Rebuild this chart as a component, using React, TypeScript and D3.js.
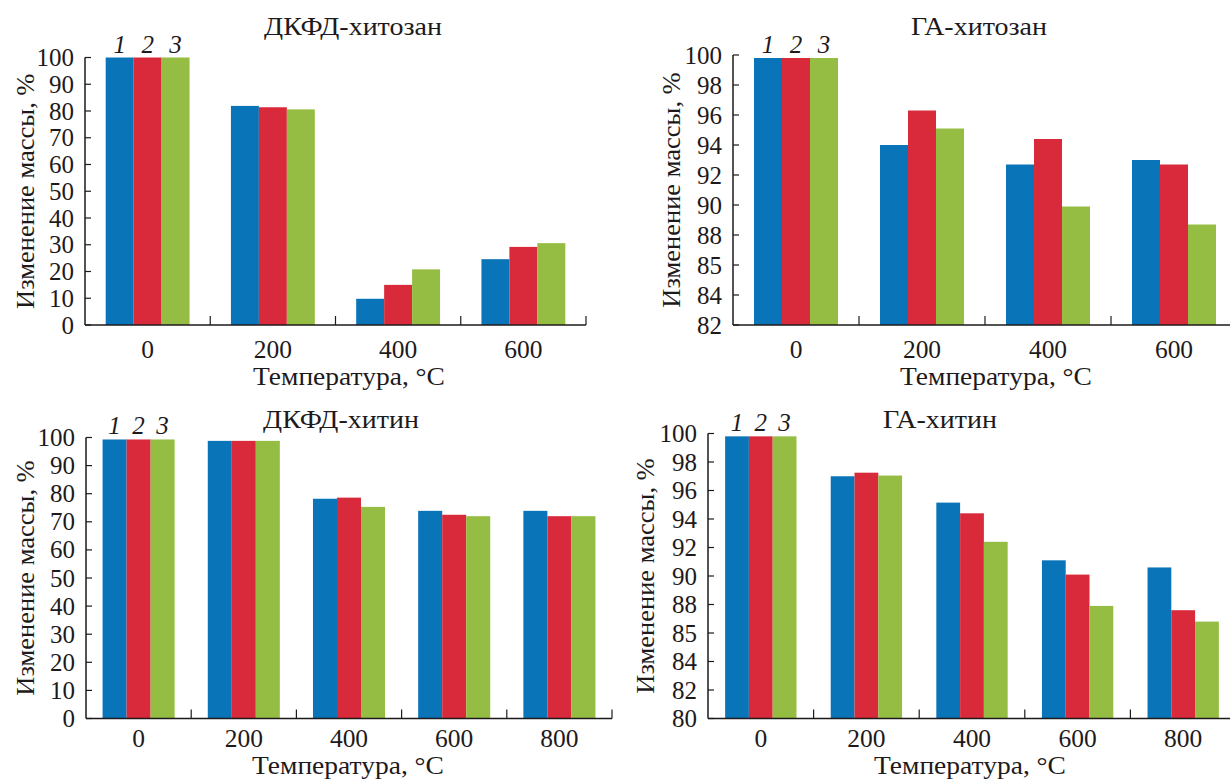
import { useEffect, useRef } from "react";
import * as d3 from "d3";

// series 1, 2, 3 colours
const colors = ["#0a74b8", "#d92a3b", "#95bd43"];
const seriesLabels = ["1", "2", "3"];

// ДКФД-хитозан
const tempsChitosan = ["0", "200", "400", "600"];
const dkfdChitosan1 = [100, 81.9, 9.8, 24.6];
const dkfdChitosan2 = [100, 81.4, 15.0, 29.2];
const dkfdChitosan3 = [100, 80.6, 20.8, 30.6];

// ГА-хитозан
const gaChitosan1 = [99.8, 94.0, 92.7, 93.0];
const gaChitosan2 = [99.8, 96.3, 94.4, 92.7];
const gaChitosan3 = [99.8, 95.1, 89.9, 88.7];

// ДКФД-хитин
const tempsChitin = ["0", "200", "400", "600", "800"];
const dkfdChitin1 = [99.3, 98.8, 78.2, 73.9, 73.9];
const dkfdChitin2 = [99.3, 98.8, 78.6, 72.5, 72.0];
const dkfdChitin3 = [99.3, 98.8, 75.3, 72.0, 72.0];

// ГА-хитин
const gaChitin1 = [99.8, 97.0, 95.15, 91.1, 90.6];
const gaChitin2 = [99.8, 97.25, 94.4, 90.1, 87.6];
const gaChitin3 = [99.8, 97.05, 92.4, 87.9, 86.8];

// y ticks (the journal figure prints "85" where 86 belongs)
const ticksPercent = [0, 10, 20, 30, 40, 50, 60, 70, 80, 90, 100];
const ticksPercentLabels = ["0", "10", "20", "30", "40", "50", "60", "70", "80", "90", "100"];
const ticksGaChitosan = [82, 84, 86, 88, 90, 92, 94, 96, 98, 100];
const ticksGaChitosanLabels = ["82", "84", "85", "88", "90", "92", "94", "96", "98", "100"];
const ticksGaChitin = [80, 82, 84, 86, 88, 90, 92, 94, 96, 98, 100];
const ticksGaChitinLabels = ["80", "82", "84", "85", "88", "90", "92", "94", "96", "98", "100"];

const yTitle = "Изменение массы, %";
const xTitle = "Температура, °С";

const FONT = "'Liberation Serif', 'DejaVu Serif', serif";
const FS = 25;
const STRETCH = 1.12;
const INK = "#1e1a1b";

const panels = [
  {
    title: "ДКФД-хитозан", cats: tempsChitosan,
    series: [dkfdChitosan1, dkfdChitosan2, dkfdChitosan3],
    domain: [0, 100], ticks: ticksPercent, tickLabels: ticksPercentLabels,
    x0: 85, x1: 586, yTop: 57.5, yBot: 325, pad: 0.74,
    titleX: 353, titleY: 35, legendY: 53, catY: 358, xTitleX: 349, xTitleY: 385, yTitleX: 25,
  },
  {
    title: "ГА-хитозан", cats: tempsChitosan,
    series: [gaChitosan1, gaChitosan2, gaChitosan3],
    domain: [82, 100], ticks: ticksGaChitosan, tickLabels: ticksGaChitosanLabels,
    x0: 733, x1: 1237, yTop: 55, yBot: 325, pad: 0.75,
    titleX: 979, titleY: 35, legendY: 53, catY: 358, xTitleX: 996, xTitleY: 385, yTitleX: 671,
  },
  {
    title: "ДКФД-хитин", cats: tempsChitin,
    series: [dkfdChitin1, dkfdChitin2, dkfdChitin3],
    domain: [0, 100], ticks: ticksPercent, tickLabels: ticksPercentLabels,
    x0: 86, x1: 612, yTop: 437.5, yBot: 718.5, pad: 0.69,
    titleX: 341, titleY: 428, legendY: 434, catY: 747, xTitleX: 348, xTitleY: 774, yTitleX: 25,
  },
  {
    title: "ГА-хитин", cats: tempsChitin,
    series: [gaChitin1, gaChitin2, gaChitin3],
    domain: [80, 100], ticks: ticksGaChitin, tickLabels: ticksGaChitinLabels,
    x0: 708, x1: 1236, yTop: 433.5, yBot: 718.5, pad: 0.72,
    titleX: 940, titleY: 428, legendY: 431, catY: 747, xTitleX: 970, xTitleY: 774, yTitleX: 645,
  },
];

const App = () => {
  const container = useRef<SVGSVGElement>(null);

  useEffect(() => {
    const svg = d3.select(container.current);
    svg.selectAll("*").remove();

    const text = (g, x, y, str, anchor = "middle", sx = STRETCH, extra = "", italic = false) =>
      g.append("text")
        .attr("transform", `translate(${x},${y}) ${extra} scale(${sx},1)`)
        .attr("text-anchor", anchor)
        .style("font-family", FONT)
        .style("font-size", FS + "px")
        .style("font-style", italic ? "italic" : "normal")
        .style("fill", INK)
        .text(str);

    panels.forEach((p) => {
      const g = svg.append("g");
      const x = d3.scaleBand().domain(p.cats).range([p.x0, p.x1]).padding(0);
      const xs = d3.scaleBand().domain(["0", "1", "2"]).range([0, x.bandwidth()])
        .paddingInner(0).paddingOuter(p.pad);
      const y = d3.scaleLinear().domain(p.domain).range([p.yBot, p.yTop]);

      // bars
      p.series.forEach((vals, si) => {
        g.selectAll(null)
          .data(vals)
          .join("rect")
          .attr("x", (d, i) => x(p.cats[i]) + xs(String(si)))
          .attr("width", xs.bandwidth())
          .attr("y", (d) => y(d))
          .attr("height", (d) => p.yBot - y(d))
          .style("fill", colors[si]);
      });

      // y axis, ticks point inward
      g.append("line")
        .attr("x1", p.x0).attr("x2", p.x0)
        .attr("y1", y(p.domain[1])).attr("y2", p.yBot)
        .style("stroke", INK).style("stroke-width", 1.5);
      p.ticks.forEach((t, i) => {
        g.append("line")
          .attr("x1", p.x0).attr("x2", p.x0 + 6)
          .attr("y1", y(t)).attr("y2", y(t))
          .style("stroke", INK).style("stroke-width", 1.2);
        text(g, p.x0 - 11, y(t) + 8.5, p.tickLabels[i], "end", 1);
      });

      // x axis, group separators
      g.append("line")
        .attr("x1", p.x0).attr("x2", p.x1)
        .attr("y1", p.yBot).attr("y2", p.yBot)
        .style("stroke", INK).style("stroke-width", 1.5);
      p.cats.forEach((c) => {
        const bx = x(c) + x.bandwidth();
        g.append("line")
          .attr("x1", bx).attr("x2", bx)
          .attr("y1", p.yBot).attr("y2", p.yBot - 9)
          .style("stroke", INK).style("stroke-width", 1.2);
        text(g, x(c) + x.bandwidth() / 2, p.catY, c, "middle", 1.02);
      });

      // series numbers over the first group
      seriesLabels.forEach((s, si) => {
        text(g, x(p.cats[0]) + xs(String(si)) + xs.bandwidth() / 2, p.legendY, s, "middle", 1, "", true);
      });

      text(g, p.titleX, p.titleY, p.title);
      text(g, p.xTitleX, p.xTitleY, xTitle, "middle", 1.1);
      text(g, p.yTitleX, (p.yTop + p.yBot) / 2, yTitle, "middle", 1.06, "rotate(-90)")
        .attr("dy", "0.35em");
    });
  }, []);

  return (
    <div style={{ position: "absolute", left: 0, top: 0 }}>
      <svg ref={container} width={1230} height={781} style={{ display: "block", background: "#fff" }}></svg>
    </div>
  );
};

export default App;
